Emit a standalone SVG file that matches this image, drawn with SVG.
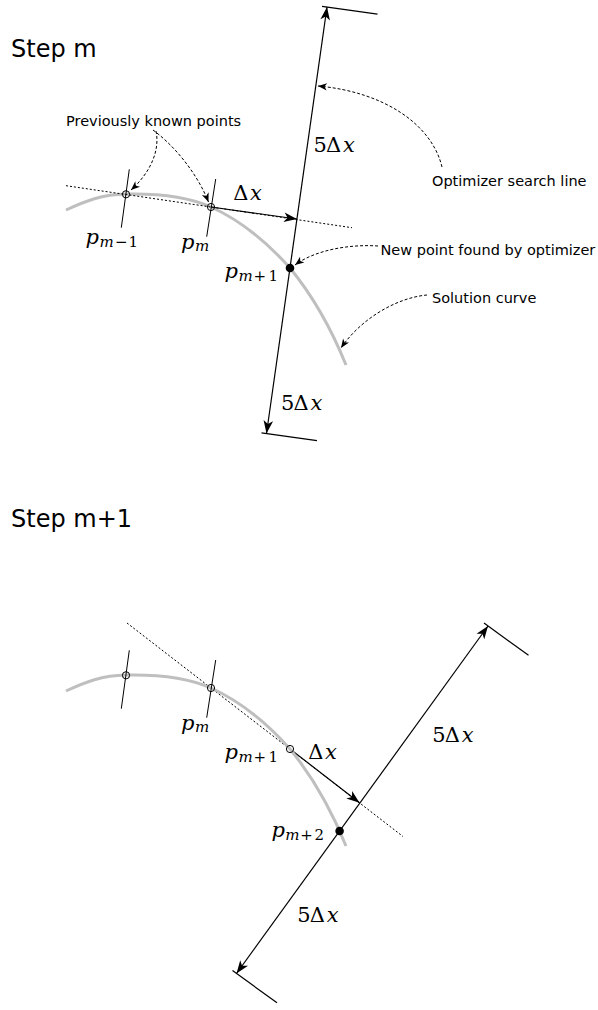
<svg xmlns="http://www.w3.org/2000/svg" width="598" height="1010" viewBox="0 0 598 1010">
<style>
.bg{fill:#fff}
.title{font-family:"DejaVu Sans",sans-serif;font-size:24px;fill:#000}
.note{font-family:"DejaVu Sans",sans-serif;font-size:14.5px;fill:#000}
.math{font-family:"DejaVu Serif",serif;font-size:21px;fill:#000}
.sub{font-size:15px}
.curve{fill:none;stroke:#bfbfbf;stroke-width:3}
.solid{fill:none;stroke:#000;stroke-width:1.2}
.tick{fill:none;stroke:#000;stroke-width:1}
.dot{fill:none;stroke:#000;stroke-width:1;stroke-dasharray:2 2}
.dash{fill:none;stroke:#000;stroke-width:1;stroke-dasharray:3 2}
.open{fill:none;stroke:#000;stroke-width:1}
.fill{fill:#000}
</style>
<defs>
<marker id="ah" markerUnits="userSpaceOnUse" markerWidth="16" markerHeight="12" viewBox="-14 -6 16 12" refX="0" refY="0" orient="auto-start-reverse" overflow="visible"><path d="M0,0 L-13,-4.8 L-9.5,0 L-13,4.8 Z" fill="#000"/></marker>
<marker id="ahs" markerUnits="userSpaceOnUse" markerWidth="12" markerHeight="10" viewBox="-10 -5 12 10" refX="0" refY="0" orient="auto" overflow="visible"><path d="M0,0 L-9,-3.6 L-6.5,0 L-9,3.6 Z" fill="#000"/></marker>
<path id="solcurve" d="M66,210 C86,200.7 101.8,194.5 126,194 C150.2,193.5 183.8,194.7 211,207 C238.2,219.3 266.5,241.7 290,268 C311.5,294.3 330.5,326.7 346,365"/>
</defs>
<rect class="bg" x="0" y="0" width="598" height="1010"/>

<g id="title-step-m"><text class="title" x="11" y="57">Step m</text></g>
<g id="solution-curve-m"><use href="#solcurve" class="curve"/></g>

<g id="connectors">
  <line class="dot" x1="66" y1="185.7" x2="352" y2="227.7"/>
  <line class="solid" x1="211" y1="207" x2="296.9" y2="219" marker-end="url(#ah)"/>
  <line class="solid" x1="327" y1="7" x2="266.5" y2="433.5" marker-start="url(#ah)" marker-end="url(#ah)"/>
  <line class="solid" x1="322" y1="6.3" x2="377.5" y2="14.2"/>
  <line class="solid" x1="261.5" y1="432.8" x2="317" y2="440.7"/>
  <path class="dash" d="M156,131 C160,150 151,172 131,190" marker-end="url(#ahs)"/>
  <path class="dash" d="M153,130 C180,150 200,180 208.5,202" marker-end="url(#ahs)"/>
  <path class="dash" d="M442,167 C432,125 385,92 318,86" marker-end="url(#ahs)"/>
  <path class="dash" d="M378,246 C350,244 315,250 295,265" marker-end="url(#ahs)"/>
  <path class="dash" d="M427,295 C395,298 360,320 341,348" marker-end="url(#ahs)"/>
  <line class="dot" x1="127" y1="623" x2="403" y2="836.5"/>
  <line class="solid" x1="290" y1="749" x2="359.5" y2="802.7" marker-end="url(#ah)"/>
  <line class="solid" x1="488" y1="626" x2="236.5" y2="973.5" marker-start="url(#ah)" marker-end="url(#ah)"/>
  <line class="solid" x1="484" y1="623.1" x2="528.5" y2="655.3"/>
  <line class="solid" x1="232.5" y1="970.6" x2="277" y2="1002.8"/>
</g>

<g id="pt-m-minus-1">
  <line class="tick" x1="129.3" y1="169.3" x2="121.3" y2="227.7"/>
  <circle class="open" cx="126" cy="194.3" r="3.6"/>
  <text class="math"><tspan font-style="italic" x="85.5" y="243.5">p</tspan><tspan class="sub" font-style="italic" x="99.5" y="246.5">m</tspan><tspan class="sub" x="115" y="246.5">−</tspan><tspan class="sub" x="128.5" y="246.5">1</tspan></text>
</g>
<g id="pt-m">
  <line class="tick" x1="215.7" y1="179" x2="206.7" y2="236.7"/>
  <circle class="open" cx="211" cy="207" r="3.6"/>
  <text class="math"><tspan font-style="italic" x="181" y="248.5">p</tspan><tspan class="sub" font-style="italic" x="195" y="251">m</tspan></text>
</g>
<g id="pt-m-plus-1">
  <circle class="fill" cx="290" cy="268" r="4.3"/>
  <text class="math"><tspan font-style="italic" x="224.5" y="278.3">p</tspan><tspan class="sub" font-style="italic" x="238.5" y="281">m</tspan><tspan class="sub" x="253.5" y="281">+</tspan><tspan class="sub" x="268.5" y="281">1</tspan></text>
</g>
<g id="label-dx-m"><text class="math"><tspan x="233.3" y="199.5">Δ</tspan><tspan font-style="italic" x="250" y="199.5">x</tspan></text></g>
<g id="label-5dx-up-m"><text class="math"><tspan x="313.5" y="152">5</tspan><tspan x="326" y="152">Δ</tspan><tspan font-style="italic" x="343" y="152">x</tspan></text></g>
<g id="label-5dx-down-m"><text class="math"><tspan x="281" y="410">5</tspan><tspan x="293.5" y="410">Δ</tspan><tspan font-style="italic" x="310.5" y="410">x</tspan></text></g>

<g id="note-previous"><text class="note" x="66" y="126">Previously known points</text></g>
<g id="note-search"><text class="note" x="432" y="185.5">Optimizer search line</text></g>
<g id="note-new"><text class="note" x="380.5" y="255">New point found by optimizer</text></g>
<g id="note-solution"><text class="note" x="432" y="303">Solution curve</text></g>

<g id="title-step-m1"><text class="title" x="11" y="527">Step m+1</text></g>
<g id="solution-curve-m1"><use href="#solcurve" class="curve" transform="translate(0,481)"/></g>

<g id="pt2-m-minus-1">
  <line class="tick" x1="129.3" y1="650.3" x2="121.3" y2="708.7"/>
  <circle class="open" cx="126" cy="675.3" r="3.6"/>
</g>
<g id="pt2-m">
  <line class="tick" x1="215.7" y1="660" x2="206.7" y2="717.7"/>
  <circle class="open" cx="211" cy="688" r="3.6"/>
  <text class="math"><tspan font-style="italic" x="181" y="729.5">p</tspan><tspan class="sub" font-style="italic" x="195" y="732">m</tspan></text>
</g>
<g id="pt2-m-plus-1">
  <circle class="open" cx="290" cy="749" r="3.6"/>
  <text class="math"><tspan font-style="italic" x="224.5" y="759.3">p</tspan><tspan class="sub" font-style="italic" x="238.5" y="762">m</tspan><tspan class="sub" x="253.5" y="762">+</tspan><tspan class="sub" x="268.5" y="762">1</tspan></text>
</g>
<g id="pt2-m-plus-2">
  <circle class="fill" cx="339.6" cy="831" r="4.3"/>
  <text class="math"><tspan font-style="italic" x="271.5" y="836.7">p</tspan><tspan class="sub" font-style="italic" x="285.3" y="839.5">m</tspan><tspan class="sub" x="300.3" y="839.5">+</tspan><tspan class="sub" x="314.5" y="839.5">2</tspan></text>
</g>
<g id="label-dx-m1"><text class="math"><tspan x="308.3" y="759">Δ</tspan><tspan font-style="italic" x="325" y="759">x</tspan></text></g>
<g id="label-5dx-up-m1"><text class="math"><tspan x="432.3" y="741.5">5</tspan><tspan x="444.8" y="741.5">Δ</tspan><tspan font-style="italic" x="461.8" y="741.5">x</tspan></text></g>
<g id="label-5dx-down-m1"><text class="math"><tspan x="297.3" y="921.7">5</tspan><tspan x="309.8" y="921.7">Δ</tspan><tspan font-style="italic" x="326.8" y="921.7">x</tspan></text></g>
</svg>
